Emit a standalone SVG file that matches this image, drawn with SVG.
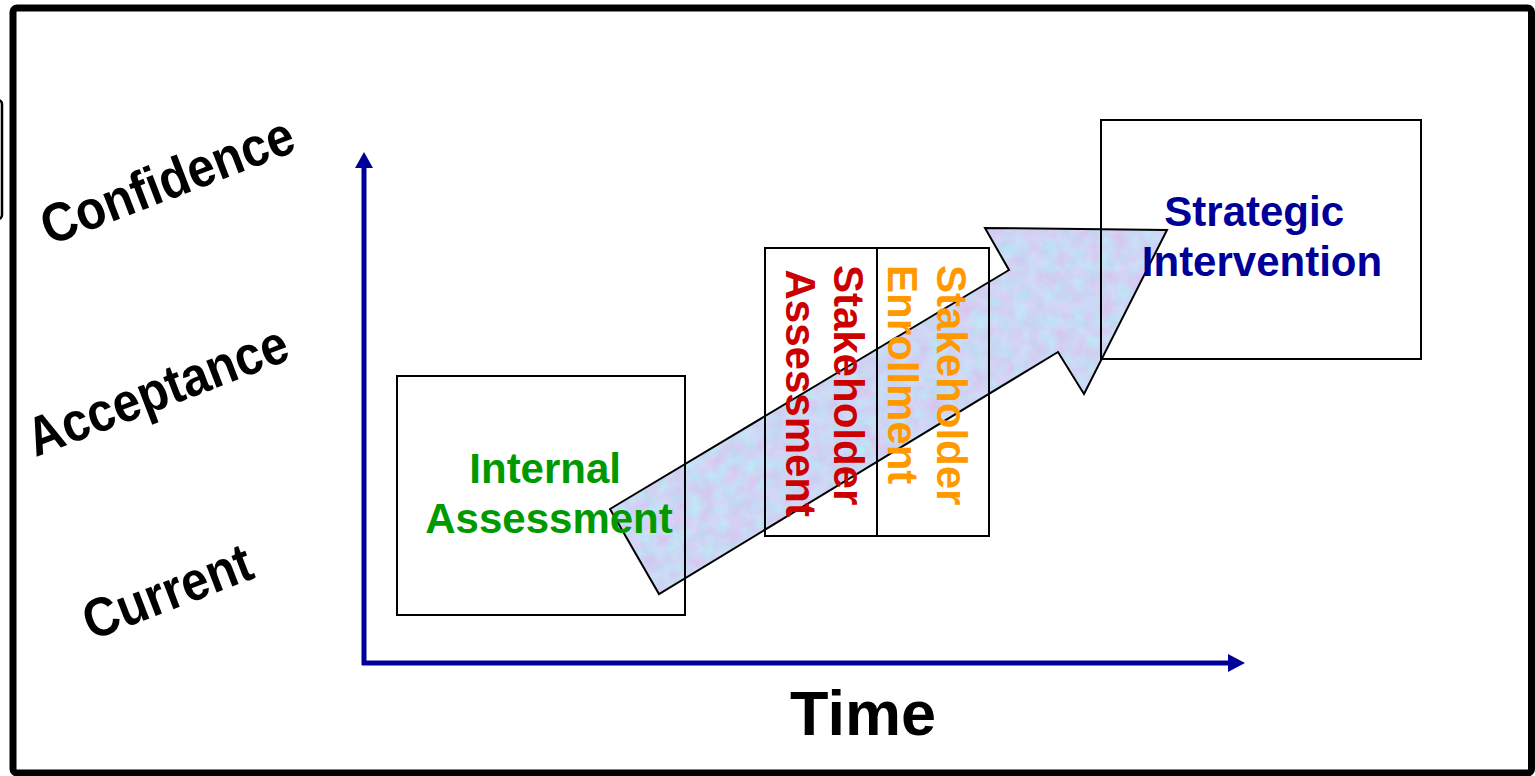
<svg xmlns="http://www.w3.org/2000/svg" width="1535" height="776" viewBox="0 0 1535 776">
  <style>
    .lbl { font-family: "Liberation Sans", Arial, sans-serif; font-weight: bold; }
    .axis-lbl { font-size: 49px; fill: #000; }
    .box { fill: none; stroke: #000; stroke-width: 2; }
    .node-txt { font-size: 42px; }
    .axis { stroke: #000099; stroke-width: 5; fill: none; }
    .axis-head { fill: #000099; }
  </style>
  <defs>
    <!-- mottled tissue-paper texture for the progress arrow -->
    <filter id="tissue" x="0" y="0" width="100%" height="100%" color-interpolation-filters="sRGB">
      <feTurbulence type="fractalNoise" baseFrequency="0.07" numOctaves="4" seed="7" result="noise"/>
      <feColorMatrix in="noise" type="matrix"
        values="0.2 0 0 0 0.7
                -0.14 0.12 0 0 0.85
                0 0.05 0 0 0.93
                0 0 0 0 1" result="tint"/>
      <feComposite in="tint" in2="SourceGraphic" operator="in"/>
    </filter>
  </defs>

  <rect width="1535" height="776" fill="#fff"/>

  <!-- outer frame -->
  <rect x="13" y="8" width="1518.5" height="765" rx="4" fill="none" stroke="#000" stroke-width="7"/>
  <rect x="-8" y="100" width="10" height="119" rx="4" fill="none" stroke="#000" stroke-width="2.5"/>

  <!-- level labels (slightly tall lettering) -->
  <text class="lbl axis-lbl" text-anchor="middle" transform="translate(174 198) rotate(-21) scale(1 1.12)">Confidence</text>
  <text class="lbl axis-lbl" text-anchor="middle" transform="translate(164 408) rotate(-21) scale(1 1.12)">Acceptance</text>
  <text class="lbl axis-lbl" text-anchor="middle" transform="translate(174 609) rotate(-21) scale(1 1.12)">Current</text>

  <!-- progress arrow -->
  <g id="progress-arrow">
    <polygon points="610,509 1009,270 985,228 1167,230 1084,394 1058,352 659,594" fill="#cfd6f4" filter="url(#tissue)"/>
    <polygon points="610,509 1009,270 985,228 1167,230 1084,394 1058,352 659,594" fill="none" stroke="#000" stroke-width="2" stroke-linejoin="miter"/>
  </g>

  <!-- axes -->
  <g id="connectors">
    <line class="axis" x1="364" y1="665" x2="364" y2="166"/>
    <polygon class="axis-head" points="355,168 364,152 373,168"/>
    <line class="axis" x1="362" y1="663" x2="1230" y2="663"/>
    <polygon class="axis-head" points="1228,654 1245,663 1228,672"/>
  </g>

  <text class="lbl" x="863" y="735" font-size="63" text-anchor="middle" fill="#000">Time</text>

  <g id="internal-assessment">
    <rect class="box" x="397" y="376" width="288" height="239"/>
    <text class="lbl node-txt" text-anchor="middle" fill="#009900">
      <tspan x="551" y="483">Internal</tspan>
      <tspan x="549" y="533">Assessment</tspan>
    </text>
  </g>

  <g id="stakeholder-assessment">
    <rect class="box" x="765" y="248" width="112" height="288"/>
    <text class="lbl node-txt" fill="#cc0000" text-anchor="end" transform="rotate(90)">
      <tspan x="517" y="-834">Stakeholder</tspan>
      <tspan x="517" y="-786">Assessment</tspan>
    </text>
  </g>

  <g id="stakeholder-enrollment">
    <rect class="box" x="877" y="248" width="112" height="288"/>
    <text class="lbl node-txt" fill="#ff9900" transform="rotate(90)">
      <tspan x="265" y="-937">Stakeholder</tspan>
      <tspan x="265" y="-888">Enrollment</tspan>
    </text>
  </g>

  <g id="strategic-intervention">
    <rect class="box" x="1101" y="120" width="320" height="239"/>
    <text class="lbl node-txt" text-anchor="middle" fill="#000099">
      <tspan x="1260" y="226">Strategic</tspan>
      <tspan x="1262" y="276">Intervention</tspan>
    </text>
  </g>
</svg>
